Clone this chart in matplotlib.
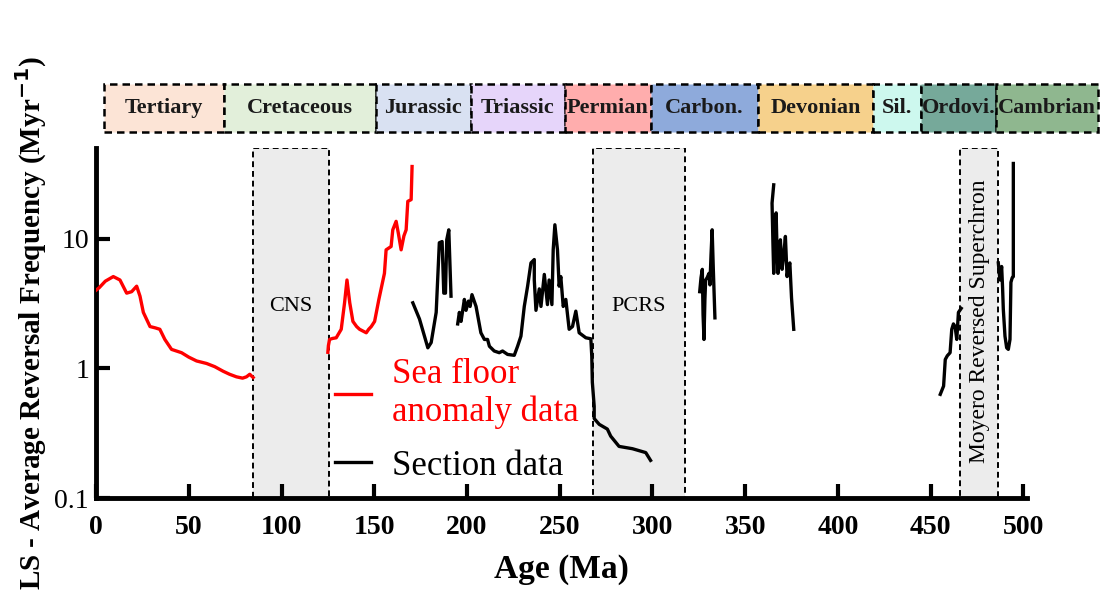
import matplotlib
matplotlib.use("Agg")
import matplotlib.pyplot as plt
from matplotlib.lines import Line2D
from matplotlib.patches import Rectangle
import matplotlib.transforms as mtransforms
import numpy as np

plt.rcParams['font.family'] = ['Liberation Serif', 'DejaVu Serif']

# ---------------- data ----------------
# Sea floor anomaly data (red), two segments
red1_age = [0, 1.8, 5, 9.3, 12.9, 16.5, 19.2, 21.9, 23.7, 25.5, 29.1, 32, 34.4, 37.1, 40.7, 46.1,
            50, 54.2, 59.6, 64, 68.5, 72, 75.7, 79, 81.1, 82.9, 84.7]
red1_val = [4.0, 4.2, 4.7, 5.1, 4.8, 3.8, 3.9, 4.3, 3.6, 2.7, 2.1, 2.05, 2.0, 1.67, 1.4, 1.32,
            1.22, 1.14, 1.09, 1.03, 0.95, 0.9, 0.86, 0.84, 0.86, 0.9, 0.85]
red2_age = [125.0, 125.3, 125.9, 127.5, 129.5, 132.2, 134.0, 135.3, 136.8, 138.5, 140.5, 142.1,
            145.7, 147.0, 148.4, 150.2, 152.5, 155.5, 156.4, 159.1, 160.0, 161.8, 163.0, 164.5,
            166.0, 167.2, 168.1, 169.9, 170.4]
red2_val = [1.33, 1.5, 1.67, 1.7, 1.72, 2.0, 3.2, 4.8, 3.2, 2.3, 2.1, 2.0,
            1.88, 2.0, 2.1, 2.3, 3.4, 5.4, 8.2, 8.7, 11.7, 13.6, 11.0, 8.2,
            10.5, 11.7, 19.4, 20.0, 36.0]

# Section data (black), several segments
blk1_age = [170.8, 174.4, 178.9, 180.7, 183.4, 185.1, 186.6, 187.5, 188.4, 189.1, 190.2, 191.4]
blk1_val = [3.2, 2.4, 1.44, 1.58, 2.7, 9.3, 9.5, 3.8, 3.8, 9.8, 11.7, 3.6]

blk2_age = [195.0, 195.9, 196.8, 198.6, 199.5, 200.8, 201.7, 202.7, 204.9, 207.5, 209.4, 211.1,
            212.1, 214.7, 217.4, 219.2, 221.9, 225.5, 227.3, 229.1, 230.9, 232.7, 234.5, 236.3,
            236.3, 237.2, 239.0, 239.9, 241.7, 243.4, 244.3, 245.8, 246.5, 247.4, 248.8, 249.7,
            250.6, 251.9, 253.3, 255.1, 256.9, 258.7, 260.5, 264.1, 266.8, 267.3, 267.6, 268.6,
            268.6, 271.3, 275.7, 277.5, 282.0, 289.2, 296.4, 299.0]
blk2_val = [2.2, 2.7, 2.3, 3.4, 2.8, 3.3, 3.0, 3.7, 3.0, 1.88, 1.67, 1.67,
            1.48, 1.36, 1.32, 1.36, 1.28, 1.26, 1.48, 1.77, 3.0, 4.3, 6.5, 6.9,
            4.8, 2.8, 4.1, 3.0, 5.3, 3.1, 4.8, 3.1, 8.2, 12.8, 8.2, 4.3,
            5.1, 3.0, 3.4, 2.0, 2.1, 2.76, 1.88, 1.72, 1.69, 1.24, 0.78, 0.51,
            0.41, 0.37, 0.34, 0.30, 0.25, 0.24, 0.224, 0.195]

blk3_age = [325.5, 326.2, 326.9, 327.3, 327.8, 328.3, 328.7, 329.5, 330.5, 331.0, 331.6, 332.2, 332.8, 333.7]
blk3_val = [3.9, 5.0, 5.8, 2.6, 1.67, 3.4, 4.8, 5.0, 5.4, 4.4, 7.5, 11.7, 6.0, 2.45]

blk4_age = [365.4, 364.5, 365.0, 365.4, 366.0, 366.7, 367.2, 367.7, 368.3, 369.0, 369.9, 370.8,
            371.7, 372.6, 373.3, 374.1, 375.0, 376.2]
blk4_val = [26.0, 18.8, 9.0, 5.4, 9.5, 15.8, 8.0, 5.4, 7.0, 9.8, 5.8, 7.5,
            10.4, 5.1, 6.0, 6.5, 3.5, 2.0]

blk5_age = [455.2, 457.0, 457.9, 459.0, 460.5, 461.4, 462.3, 463.2, 464.1, 465.0, 466.5]
blk5_val = [0.63, 0.73, 1.17, 1.25, 1.32, 2.0, 2.2, 2.1, 1.67, 2.7, 2.9]

blk6_age = [486.5, 487.4, 488.3, 488.8, 489.2, 490.1, 491.0, 491.9, 492.8, 493.3, 494.0, 494.6, 494.6]
blk6_val = [6.5, 4.8, 6.1, 4.2, 2.85, 1.77, 1.44, 1.4, 1.67, 4.6, 5.0, 5.1, 38.0]

# superchrons (shaded intervals)
chron_names = ["CNS", "PCRS", "Moyero Reversed Superchron"]
chron_start = [84.5, 268.0, 466.0]
chron_end = [125.5, 317.5, 486.5]

# geological periods
period_names = ["Tertiary", "Cretaceous", "Jurassic", "Triassic", "Permian", "Carbon.",
                "Devonian", "Sil.", "Ordovi.", "Cambrian"]
period_edges = [4.3, 69, 151, 202, 253, 299, 357, 419, 445, 485, 540]
period_colors = ["#fce4d6", "#e2efda", "#d9e1f2", "#e6d5fa", "#ffadad", "#8eaadb",
                 "#f6d18c", "#cdf8ee", "#76a99a", "#8fb78f"]

xticks = [0, 50, 100, 150, 200, 250, 300, 350, 400, 450, 500]
yticks = [0.1, 1, 10]
ytick_labels = ["0.1", "1", "10"]

# ---------------- figure ----------------
fig = plt.figure(figsize=(11.04, 5.99), dpi=100)
ax = fig.add_axes([0.0870, 0.1686, 0.8433, 0.5843])
ax.set_yscale('log')
ax.set_xlim(0, 502)
ax.set_ylim(0.1, 50)

# superchron shading
for name, s, e in zip(chron_names, chron_start, chron_end):
    ax.axvspan(s, e, facecolor="#ececec", edgecolor="black", linestyle=(0, (3, 2)),
               linewidth=1.4, zorder=1)

ax.text((chron_start[0] + chron_end[0]) / 2, 3.0, chron_names[0], ha='center', va='center',
        fontsize=16, zorder=2)
ax.text((chron_start[1] + chron_end[1]) / 2, 3.0, chron_names[1], ha='center', va='center',
        fontsize=16, zorder=2)
ax.text((chron_start[2] + chron_end[2]) / 2, 2.3, chron_names[2], ha='center', va='center',
        fontsize=17, rotation=90, zorder=2)

lw = 2.4
red = "#ff0000"
ax.plot(red1_age, red1_val, color=red, lw=lw, zorder=3, solid_joinstyle='round')
ax.plot(red2_age, red2_val, color=red, lw=lw, zorder=3, solid_joinstyle='round')
for a, v in [(blk1_age, blk1_val), (blk2_age, blk2_val), (blk3_age, blk3_val),
             (blk4_age, blk4_val), (blk5_age, blk5_val), (blk6_age, blk6_val)]:
    ax.plot(a, v, color="black", lw=lw, zorder=3, solid_joinstyle='round')

# period boxes above the axes
trans = mtransforms.blended_transform_factory(ax.transData, ax.transAxes)
y0, y1 = 1.046, 1.183
for name, s, e, c in zip(period_names, period_edges[:-1], period_edges[1:], period_colors):
    r = Rectangle((s, y0), e - s, y1 - y0, transform=trans, facecolor=c, edgecolor="black",
                  linestyle=(0, (3, 2)), linewidth=1.8, clip_on=False, zorder=5)
    ax.add_patch(r)
    ax.text((s + e) / 2, (y0 + y1) / 2, name, transform=trans, ha='center', va='center',
            fontsize=16, fontweight='bold', color="#1a1a1a", clip_on=False, zorder=6)

# axes styling
for sp in ['top', 'right']:
    ax.spines[sp].set_visible(False)
for sp in ['left', 'bottom']:
    ax.spines[sp].set_linewidth(3.5)
ax.set_xticks(xticks)
ax.set_xticklabels([str(t) for t in xticks])
ax.set_yticks(yticks)
ax.set_yticklabels(ytick_labels)
ax.yaxis.set_minor_locator(matplotlib.ticker.NullLocator())
ax.tick_params(axis='x', direction='in', length=10, width=3, pad=12, labelsize=20)
ax.tick_params(axis='y', direction='in', length=10, width=3, pad=5, labelsize=20)
for lab in ax.get_xticklabels():
    lab.set_fontweight('bold')

ax.set_xlabel("Age (Ma)", fontsize=24, fontweight='bold', labelpad=10)
ax.set_ylabel("LS - Average Reversal Frequency (Myr$^{\\mathbf{-1}}$)", fontsize=21,
              fontweight='bold', labelpad=4)

# legend
handles = [Line2D([0], [0], color=red, lw=lw), Line2D([0], [0], color="black", lw=lw)]
leg = ax.legend(handles, ["Sea floor\nanomaly data", "Section data"], loc='upper left',
                bbox_to_anchor=(0.2417, 0.44), borderaxespad=0, frameon=False, fontsize=25,
                labelcolor='linecolor', handlelength=1.05, handletextpad=0.58,
                labelspacing=0.58)
leg.set_zorder(7)

fig.savefig("out.png", dpi=100)
